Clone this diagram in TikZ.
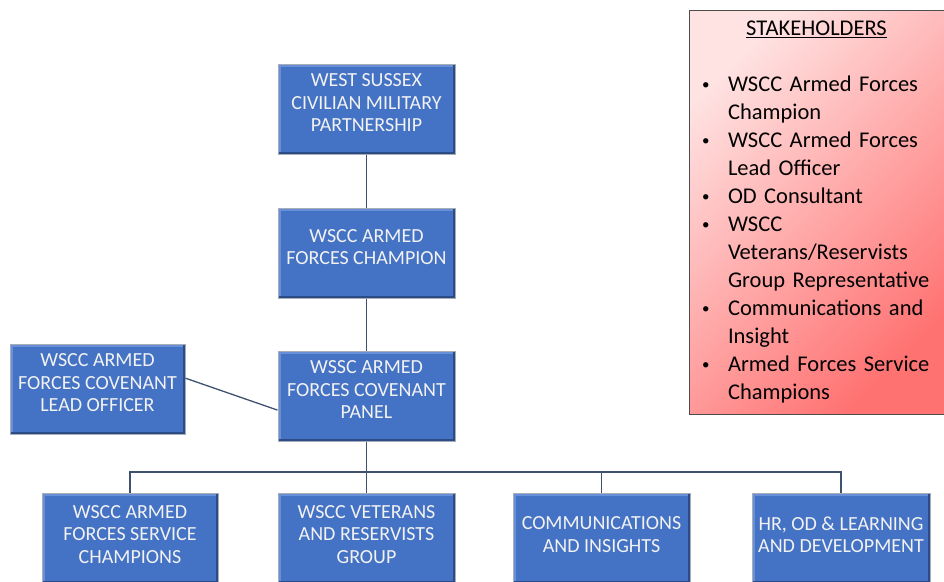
\documentclass[tikz,border=0pt]{standalone}
\usepackage{fontspec}
\setmainfont{Carlito}
\usetikzlibrary{positioning}
\definecolor{unitblue}{RGB}{68,114,196}
\definecolor{unitdark}{RGB}{44,76,136}
\definecolor{unitlight}{RGB}{104,144,216}
\definecolor{unitrim}{RGB}{168,172,182}
\definecolor{linkgray}{RGB}{62,82,112}
\definecolor{stakelight}{RGB}{255,226,226}
\definecolor{stakered}{RGB}{255,114,114}
\tikzset{ u/.style = { rectangle % unit box
        , draw = unitrim
        , line width = 1pt
        , fill = unitblue
        , path picture = {
            \draw [line width=5pt, unitlight]
              (path picture bounding box.south west) -- (path picture bounding box.north west)
              -- (path picture bounding box.north east);
            \draw [line width=5pt, unitdark]
              (path picture bounding box.south west) -- (path picture bounding box.south east)
              -- (path picture bounding box.north east);
          }
        , text = white!95!black
        , align = center
        , inner sep = 0pt
        , text depth = 12pt
        , minimum width = 177pt
        , minimum height = 90pt
        , font = \fontsize{20}{22.5}\selectfont
        }
        , s/.style = { rectangle % stakeholder box
        , draw = black!70
        , line width = 0.8pt
        , top color = stakelight
        , bottom color = stakered
        , shading angle = 45
        , inner xsep = 5pt
        , inner ysep = 0pt
        , text width = 245pt
        , minimum height = 404pt
        , font = \fontsize{22.5}{28}\selectfont
        }
        }
\newcommand{\stitem}[1]{\par\noindent\hangindent=34pt\hangafter=1
  \hspace*{8pt}\makebox[26pt][l]{\raisebox{1.5pt}{\fontsize{15}{15}\selectfont\textbullet}}#1}

\begin{document}
\begin{tikzpicture}[x=1pt, y=-1pt,
        edge_style/.style={draw=linkgray, line width=1.3pt}]
        \clip (0,0) rectangle (944,581);
        \useasboundingbox (0,0) rectangle (944,581);

        \node [u] (wscmp) at (366.5,109) {WEST SUSSEX\\CIVILIAN MILITARY\\PARTNERSHIP};
        \node [u] (champ) at (366.5,253) {WSCC ARMED\\FORCES CHAMPION};
        \node [u] (panel) at (366.5,396) {WSSC ARMED\\FORCES COVENANT\\PANEL};
        \node [u, minimum width=175pt] (lead) at (97.5,389) {WSCC ARMED\\FORCES COVENANT\\LEAD OFFICER};

        % bottom row
        \node [u, text depth=7pt, minimum width=176pt] (servc) at (130,538) {WSCC ARMED\\FORCES SERVICE\\CHAMPIONS};
        \node [u, text depth=7pt] (veter) at (366.5,538) {WSCC VETERANS\\AND RESERVISTS\\GROUP};
        \node [u, text depth=7pt] (comms) at (601.5,538) {COMMUNICATIONS\\AND INSIGHTS};
        \node [u, text depth=7pt, minimum width=178pt] (hrodl) at (841,538) {HR, OD \& LEARNING\\AND DEVELOPMENT};

        \node [s] (stake) at (816.5,212) {\raggedright
            {\centering\underline{STAKEHOLDERS}\par}
            \vspace{28pt}
            \stitem{WSCC Armed Forces\newline Champion}
            \stitem{WSCC Armed Forces\newline Lead Officer}
            \stitem{OD Consultant}
            \stitem{WSCC\newline Veterans/Reservists\newline Group Representative}
            \stitem{Communications and\newline Insight}
            \stitem{Armed Forces Service\newline Champions}\par};

        \coordinate (bus) at (366.5,472);
        \draw [edge_style] (wscmp) -- (champ);
        \draw [edge_style] (champ) -- (panel);
        \draw [edge_style] (lead.7) -- (panel.189);
        \draw [edge_style] (panel) -- (bus);
        \draw [edge_style] (servc.north) |- (bus) -| (hrodl.north);
        \draw [edge_style] (veter) -- (bus);
        \draw [edge_style] (comms.north) |- (bus);
\end{tikzpicture}
\end{document}
